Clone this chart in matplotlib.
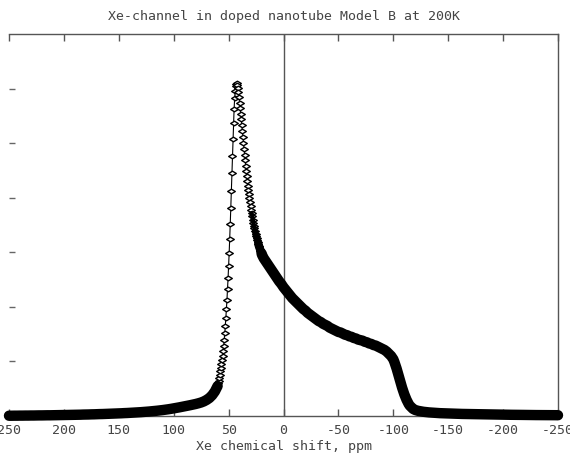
import matplotlib
matplotlib.use("Agg")
import matplotlib.pyplot as plt
from matplotlib.path import Path
import numpy as np

# ---- spectrum, read segment by segment (shift in ppm, intensity in arb. units) ----
shift_low = [250, 247.5, 245, 242.5, 240, 237.5, 235, 232.5, 230, 227.5, 225, 222.5,
             220, 217.5, 215, 212.5, 210, 207.5, 205, 202.5, 200, 197.5, 195, 192.5,
             190, 187.5, 185, 182.5, 180, 177.5, 175, 172.5, 170, 167.5, 165, 162.5,
             160, 157.5, 155, 152.5, 150, 147.5, 145, 142.5, 140, 137.5, 135, 132.5,
             130, 127.5, 125, 122.5, 120, 117.5, 115, 112.5, 110, 107.5, 105, 102.5,
             100, 97.5, 95, 92.5, 90, 87.5, 85, 82.5, 80, 77.5, 75, 72.5, 70, 67.5,
             65, 62.5, 60]
inten_low = [0.005, 0.005, 0.006, 0.006, 0.007, 0.007, 0.008, 0.008, 0.009, 0.009, 0.010, 0.011,
             0.011, 0.012, 0.013, 0.013, 0.014, 0.015, 0.016, 0.017, 0.018, 0.019, 0.020, 0.021,
             0.022, 0.023, 0.024, 0.026, 0.027, 0.028, 0.030, 0.031, 0.033, 0.035, 0.036, 0.038,
             0.040, 0.042, 0.044, 0.046, 0.048, 0.050, 0.053, 0.055, 0.058, 0.061, 0.064, 0.067,
             0.070, 0.074, 0.078, 0.082, 0.087, 0.092, 0.097, 0.103, 0.109, 0.116, 0.123, 0.131,
             0.140, 0.149, 0.158, 0.168, 0.178, 0.188, 0.198, 0.209, 0.220, 0.233, 0.248, 0.268,
             0.295, 0.33, 0.38, 0.45, 0.55]

shift_peak = [59.5, 59.0, 58.5, 58.0, 57.5, 57.0, 56.5, 56.0, 55.5, 55.0, 54.5, 54.0,
              53.5, 53.0, 52.5, 52.0, 51.5, 51.0, 50.5, 50.0, 49.5, 49.0, 48.5, 48.0,
              47.5, 47.0, 46.5, 46.0, 45.5, 45.0, 44.5, 44.0, 43.5, 43.0, 42.5, 42.0,
              41.5, 41.0, 40.5, 40.0, 39.5, 39.0, 38.5, 38.0, 37.5, 37.0, 36.5, 36.0,
              35.5, 35.0, 34.5, 34.0, 33.5, 33.0, 32.5, 32.0, 31.5, 31.0, 30.5, 30.0,
              29.5, 29.0, 28.5, 28.0, 27.5, 27.0, 26.5, 26.0, 25.5, 25.0, 24.5, 24.0,
              23.5, 23.0, 22.5, 22.0, 21.5, 21.0, 20.5, 20.0, 19.5, 19.0, 18.5, 18.0]
inten_peak = [0.60, 0.65, 0.70, 0.76, 0.82, 0.88, 0.95, 1.02, 1.10, 1.19, 1.29, 1.40,
              1.52, 1.65, 1.80, 1.96, 2.13, 2.32, 2.52, 2.74, 2.98, 3.24, 3.52, 3.82,
              4.13, 4.45, 4.77, 5.08, 5.37, 5.62, 5.82, 5.96, 6.05, 6.09, 6.10, 6.07,
              6.01, 5.93, 5.84, 5.74, 5.64, 5.54, 5.44, 5.34, 5.23, 5.12, 5.01, 4.90,
              4.79, 4.69, 4.59, 4.49, 4.40, 4.31, 4.22, 4.14, 4.06, 3.99, 3.92, 3.85,
              3.78, 3.72, 3.66, 3.60, 3.54, 3.49, 3.44, 3.39, 3.34, 3.30, 3.26, 3.23,
              3.19, 3.16, 3.12, 3.09, 3.06, 3.03, 3.00, 2.98, 2.95, 2.93, 2.91, 2.89]

shift_plateau = [16, 14, 12, 10, 8, 6, 4, 2, 0, -2, -4, -6, -8, -10, -12, -14, -16, -18,
                 -20, -22, -24, -26, -28, -30, -32, -34, -36, -38, -40, -42, -44, -46,
                 -48, -50, -52, -54, -56, -58, -60, -62, -64, -66, -68, -70, -72, -74,
                 -76, -78, -80, -82, -84, -86, -88, -90, -92, -94, -96, -98, -100]
inten_plateau = [2.83, 2.77, 2.71, 2.65, 2.59, 2.53, 2.47, 2.42, 2.36, 2.31, 2.26, 2.21,
                 2.16, 2.12, 2.08, 2.04, 2.00, 1.96, 1.93, 1.89, 1.86, 1.83, 1.80, 1.77,
                 1.74, 1.72, 1.69, 1.67, 1.65, 1.62, 1.60, 1.58, 1.56, 1.54, 1.53, 1.51,
                 1.49, 1.48, 1.46, 1.45, 1.43, 1.42, 1.40, 1.39, 1.38, 1.36, 1.35, 1.33,
                 1.32, 1.30, 1.29, 1.27, 1.25, 1.23, 1.21, 1.18, 1.14, 1.10, 1.04]

shift_edge = [-101, -102, -103, -104, -105, -106, -107, -108, -109, -110,
              -111, -112, -113, -114, -115, -116, -117, -118, -119, -120]
inten_edge = [0.99, 0.93, 0.87, 0.80, 0.73, 0.66, 0.59, 0.52, 0.46, 0.40,
              0.35, 0.30, 0.26, 0.22, 0.19, 0.17, 0.15, 0.13, 0.12, 0.11]

shift_high = [-122.5, -125, -127.5, -130, -132.5, -135, -137.5, -140, -142.5, -145,
              -147.5, -150, -152.5, -155, -157.5, -160, -162.5, -165, -167.5, -170,
              -172.5, -175, -177.5, -180, -182.5, -185, -187.5, -190, -192.5, -195,
              -197.5, -200, -202.5, -205, -207.5, -210, -212.5, -215, -217.5, -220,
              -222.5, -225, -227.5, -230, -232.5, -235, -237.5, -240, -242.5, -245,
              -247.5, -250]
inten_high = [0.095, 0.085, 0.077, 0.071, 0.066, 0.062, 0.058, 0.055, 0.052, 0.050,
              0.048, 0.046, 0.044, 0.042, 0.041, 0.039, 0.038, 0.037, 0.035, 0.034,
              0.033, 0.032, 0.031, 0.030, 0.029, 0.028, 0.028, 0.027, 0.026, 0.025,
              0.025, 0.024, 0.023, 0.023, 0.022, 0.022, 0.021, 0.020, 0.020, 0.019,
              0.019, 0.018, 0.018, 0.017, 0.017, 0.017, 0.016, 0.016, 0.015, 0.015,
              0.015, 0.014]

shift_ticks = [250, 200, 150, 100, 50, 0, -50, -100, -150, -200, -250]
shift_tick_labels = ["250", "200", "150", "100", "50", "0", "-50", "-100", "-150", "-200", "-250"]
intensity_ticks = [1, 2, 3, 4, 5, 6]

title_text = "Xe-channel in doped nanotube Model B at 200K"
xlabel_text = "Xe chemical shift, ppm"

shift = np.concatenate([shift_low, shift_peak, shift_plateau, shift_edge, shift_high])
intensity = np.concatenate([inten_low, inten_peak, inten_plateau, inten_edge, inten_high])

# ---- figure ----
plt.rcParams["font.family"] = ["DejaVu Sans Mono"]
fig = plt.figure(figsize=(5.70, 4.53), dpi=100)
ax = fig.add_axes([9 / 570, 1 - 416 / 453, (558 - 9) / 570, (416 - 34) / 453])

# thin connecting line through every point
ax.plot(shift, intensity, color="black", lw=0.8, clip_on=False, zorder=3)

# open flattened diamonds around the main peak
diamond = Path([(-1.0, 0.0), (0.0, 0.6), (1.0, 0.0), (0.0, -0.6), (-1.0, 0.0)],
               [Path.MOVETO, Path.LINETO, Path.LINETO, Path.LINETO, Path.CLOSEPOLY])
ax.plot(shift_peak, inten_peak, ls="none", marker=diamond, ms=5.5,
        mfc="white", mec="black", mew=1.0, clip_on=False, zorder=4)

# densely sampled stretches merge into a solid black band; it narrows where
# the stacked diamonds on the falling side of the peak start to close up
band_style = dict(color="black", solid_capstyle="round",
                  solid_joinstyle="round", clip_on=False, zorder=5)
ax.plot(shift_low, inten_low, lw=7.5, **band_style)
for upper, width in [(29.0, 3.0), (26.0, 4.5), (23.0, 6.0), (20.0, 7.5)]:
    part = shift <= upper
    ax.plot(shift[part], intensity[part], lw=width, **band_style)

ax.axvline(0, color="#555555", lw=1.0, zorder=2)

ax.set_xlim(250, -250)
ax.set_ylim(0, 7)
ax.set_xticks(shift_ticks)
ax.set_xticklabels(shift_tick_labels)
ax.set_yticks(intensity_ticks)
ax.set_yticklabels([])

ax.tick_params(axis="x", direction="in", length=5, width=1.0, color="#555555",
               top=True, labelsize=9.5, labelcolor="#444444", pad=6)
ax.tick_params(axis="y", direction="in", length=4, width=1.0, color="#666666",
               right=False)

for side in ["top", "bottom", "right"]:
    ax.spines[side].set_color("#555555")
    ax.spines[side].set_linewidth(1.0)
ax.spines["left"].set_visible(False)

ax.set_xlabel(xlabel_text, fontsize=9.5, color="#444444", labelpad=2)
ax.set_title(title_text, fontsize=9.5, color="#444444", pad=10)

fig.savefig("out.png", dpi=100)
